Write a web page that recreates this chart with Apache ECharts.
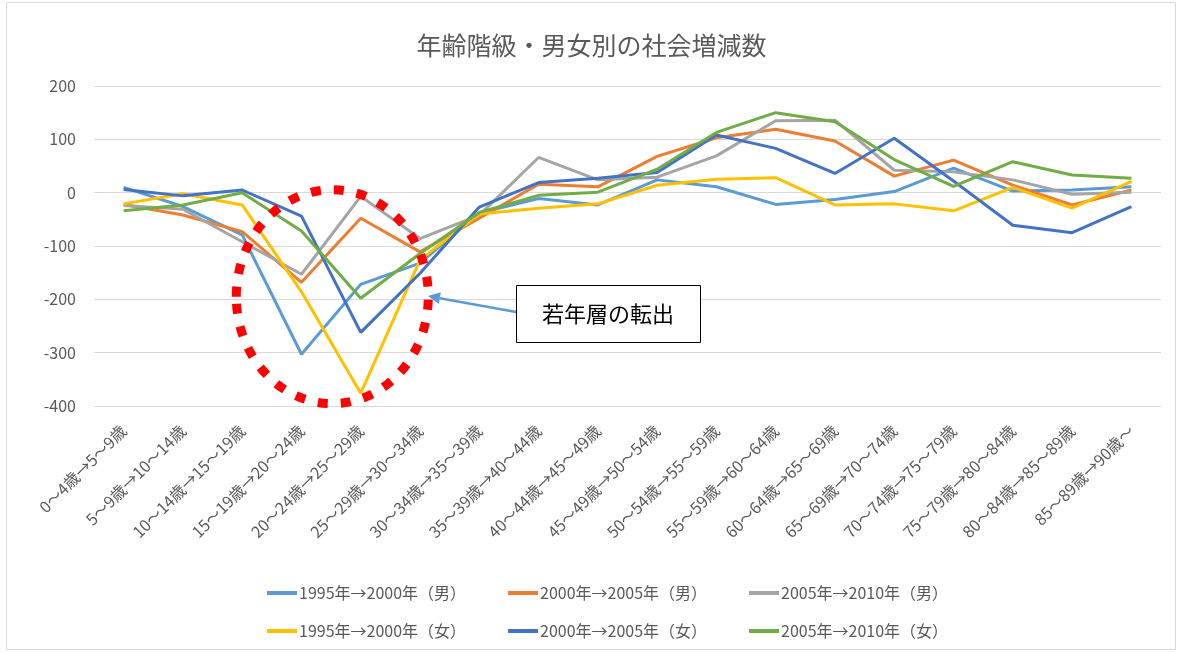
<!DOCTYPE html>
<html>
<head>
<meta charset="utf-8">
<script src="https://cdn.jsdelivr.net/npm/echarts@6/dist/echarts.min.js"></script>
<style>
html,body{margin:0;padding:0;background:#fff;}
#chart{width:1183px;height:652px;}
</style>
</head>
<body>
<div id="chart"></div>
<script>
const categories = ['0～4歳→5～9歳','5～9歳→10～14歳','10～14歳→15～19歳','15～19歳→20～24歳','20～24歳→25～29歳','25～29歳→30～34歳','30～34歳→35～39歳','35～39歳→40～44歳','40～44歳→45～49歳','45～49歳→50～54歳','50～54歳→55～59歳','55～59歳→60～64歳','60～64歳→65～69歳','65～69歳→70～74歳','70～74歳→75～79歳','75～79歳→80～84歳','80～84歳→85～89歳','85～89歳→90歳～'];
const seriesNames = ['1995年→2000年（男）','2000年→2005年（男）','2005年→2010年（男）','1995年→2000年（女）','2000年→2005年（女）','2005年→2010年（女）'];
const male1995 = [10,-26,-79,-303,-172,-132,-38,-11,-23,24,11,-22,-13,2,46,3,5,11];
const male2000 = [-22,-42,-73,-168,-48,-111,-48,16,11,68,103,119,97,31,61,14,-23,5];
const male2005 = [-24,-31,-92,-153,-7,-86,-42,66,24,29,69,135,136,42,39,24,-3,1];
const female1995 = [-21,-2,-23,-186,-376,-126,-40,-29,-21,14,25,28,-23,-21,-34,10,-29,21];
const female2000 = [6,-6,5,-44,-262,-151,-27,19,27,38,108,83,36,102,22,-61,-75,-26];
const female2005 = [-34,-23,0,-72,-198,-114,-37,-5,1,44,113,150,133,62,12,58,33,27];
const yTicks = {min:-400, max:200, interval:100};
const titleText = '年齢階級・男女別の社会増減数';
const annotationText = '若年層の転出';

const colors = ['#5B9BD5','#ED7D31','#A5A5A5','#FFC000','#4472C4','#70AD47'];
const allData = [male1995, male2000, male2005, female1995, female2000, female2005];
const FONT = "'Noto Sans CJK JP', 'Noto Sans', sans-serif";

const chart = echarts.init(document.getElementById('chart'));

const series = allData.map((d, i) => ({
  name: seriesNames[i],
  type: 'line',
  data: d,
  showSymbol: false,
  symbol: 'none',
  lineStyle: {width: 3, color: colors[i]},
  itemStyle: {color: colors[i]},
  z: 2 + i,
  animation: false
}));

const legendCommon = {
  left: 262,
  icon: 'rect',
  itemWidth: 30,
  itemHeight: 4,
  itemGap: 42,
  textStyle: {fontFamily: FONT, fontSize: 16, color: '#595959', padding: [0,0,0,-3]}
};

chart.setOption({
  animation: false,
  color: colors,
  title: {
    text: titleText,
    left: 'center',
    top: 28,
    textStyle: {fontFamily: FONT, fontSize: 25, fontWeight: 'normal', color: '#595959'}
  },
  legend: [
    Object.assign({top: 580, data: seriesNames.slice(0,3)}, legendCommon),
    Object.assign({top: 618, data: seriesNames.slice(3,6)}, legendCommon)
  ],
  grid: {left: 94, right: 22, top: 86, bottom: 246, containLabel: false},
  xAxis: {
    type: 'category',
    data: categories,
    boundaryGap: true,
    axisLine: {show: false, onZero: false},
    axisTick: {show: false},
    axisLabel: {rotate: 45, interval: 0, margin: 22, fontFamily: FONT, fontSize: 16, color: '#595959'}
  },
  yAxis: {
    type: 'value',
    min: yTicks.min, max: yTicks.max, interval: yTicks.interval,
    axisLine: {show: false},
    axisTick: {show: false},
    splitLine: {lineStyle: {color: '#D9D9D9', width: 1}},
    axisLabel: {margin: 18, fontFamily: FONT, fontSize: 16, color: '#595959'}
  },
  series: series
});

// annotations (positioned from data coordinates)
function px(idx, val){ return chart.convertToPixel({gridIndex:0}, [idx, val]); }
const p3 = px(3, -195), p4 = px(4, -195);
const c = [p3[0] + 0.52*(p4[0]-p3[0]), p3[1]];
const arrowTip = [428, 296];
const arrowStart = [516, 312];
const ang = Math.atan2(arrowTip[1]-arrowStart[1], arrowTip[0]-arrowStart[0]);
const ah = 12, aw = 6;
const back = [arrowTip[0]-ah*Math.cos(ang), arrowTip[1]-ah*Math.sin(ang)];
const headPts = [
  arrowTip,
  [back[0]+aw*Math.sin(ang), back[1]-aw*Math.cos(ang)],
  [back[0]-aw*Math.sin(ang), back[1]+aw*Math.cos(ang)]
];

chart.setOption({
  graphic: [
    {type:'rect', shape:{x:6.5, y:2.5, width:1169, height:647}, style:{fill:'none', stroke:'#D9D9D9', lineWidth:1}, silent:true, z:0},
    {type:'ellipse', shape:{cx:c[0], cy:c[1], rx:96, ry:107}, style:{fill:'none', stroke:'#FF0000', lineWidth:9, lineDash:[10,13]}, z:100},
    {type:'line', shape:{x1:arrowStart[0], y1:arrowStart[1], x2:back[0], y2:back[1]}, style:{stroke:'#5B9BD5', lineWidth:2.5}, z:100},
    {type:'polygon', shape:{points:headPts}, style:{fill:'#5B9BD5'}, z:100},
    {type:'rect', shape:{x:516.5, y:285.5, width:184, height:57}, style:{fill:'#FFFFFF', stroke:'#000000', lineWidth:1}, z:100},
    {type:'text', x:608, y:314, style:{text:annotationText, font:"22px 'Noto Sans CJK JP'", fill:'#000000', align:'center', verticalAlign:'middle'}, z:101}
  ]
});
</script>
</body>
</html>
